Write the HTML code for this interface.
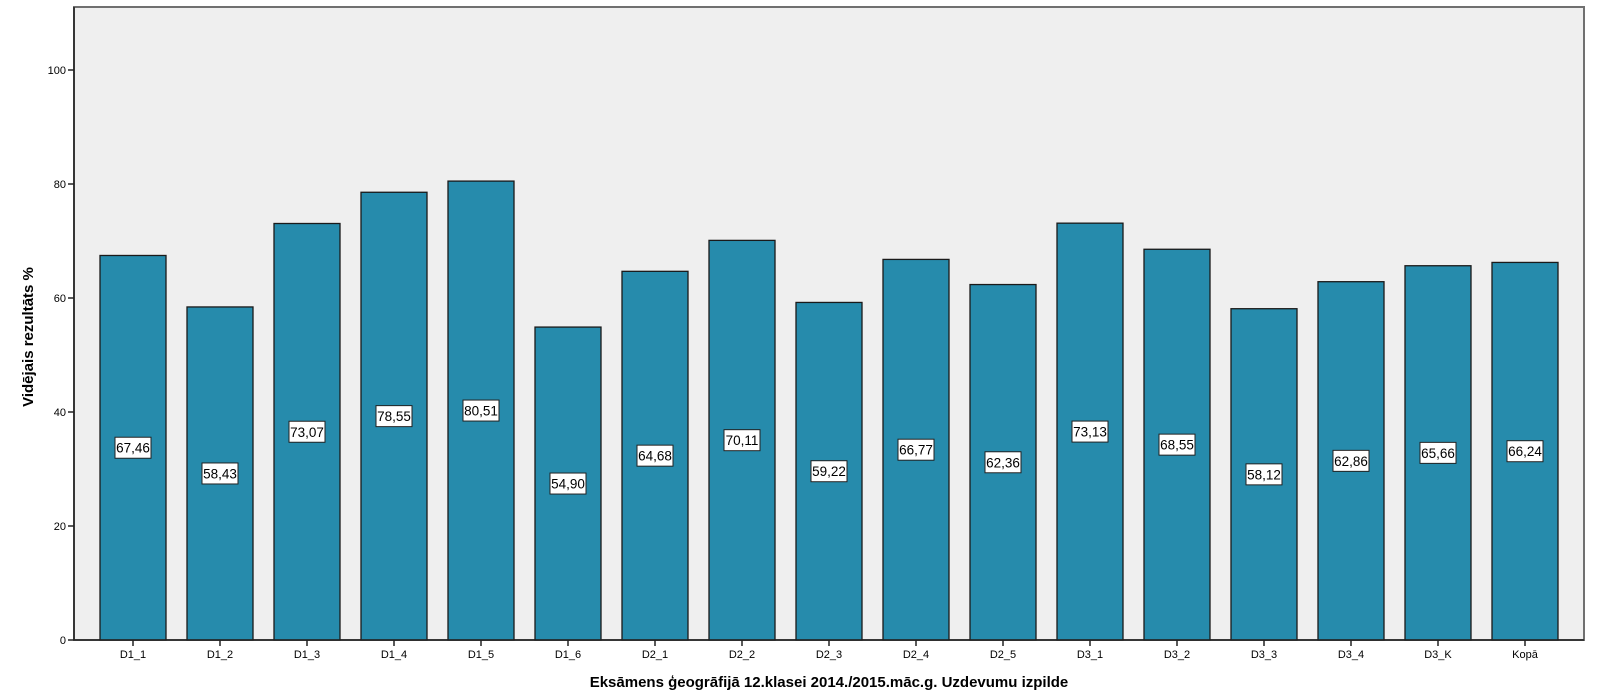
<!DOCTYPE html>
<html><head><meta charset="utf-8"><style>
html,body{margin:0;padding:0;background:#fff;}
svg{display:block;font-family:"Liberation Sans",Arial,sans-serif;}
</style></head><body>
<svg id="chart" width="1600" height="700">
<rect x="74" y="7" width="1510" height="633" fill="#efefef" stroke="#707070" stroke-width="2"/>
<g id="bars"></g>
<g id="yaxis"></g>
<g id="xaxis"></g>
<text x="33" y="337" transform="rotate(-90 33 337)" text-anchor="middle" font-size="15" font-weight="bold">Vidējais rezultāts %</text>
<text x="829" y="687" text-anchor="middle" font-size="15" font-weight="bold">Eksāmens ģeogrāfijā 12.klasei 2014./2015.māc.g. Uzdevumu izpilde</text>
</svg>
<script>
const categories=["D1_1","D1_2","D1_3","D1_4","D1_5","D1_6","D2_1","D2_2","D2_3","D2_4","D2_5","D3_1","D3_2","D3_3","D3_4","D3_K","Kopā"];
const values=[67.46,58.43,73.07,78.55,80.51,54.90,64.68,70.11,59.22,66.77,62.36,73.13,68.55,58.12,62.86,65.66,66.24];
const yTicks=[0,20,40,60,80,100];
const NS="http://www.w3.org/2000/svg";
const y0=640,pxu=5.7,x0=133,step=87,bw=66;
const ys=v=>y0-v*pxu, xs=i=>x0+i*step;
function mk(t,a,p){const e=document.createElementNS(NS,t);for(const k in a)e.setAttribute(k,a[k]);p.appendChild(e);return e;}
const bars=document.getElementById('bars'),ya=document.getElementById('yaxis'),xa=document.getElementById('xaxis');
values.forEach((v,i)=>{
 const r=mk('rect',{x:xs(i)-bw/2,y:ys(v),width:bw,height:y0-ys(v),fill:'#268bac',stroke:'#1a1a1a','stroke-width':1.3},bars);
 
 
 const s=v.toFixed(2).replace('.',',');
 const cy=ys(v/2);
 const b=mk('rect',{x:xs(i)-18,y:cy-10.5,width:36,height:21,fill:'#fff',stroke:'#222','stroke-width':1},bars);
 
 
 const t=mk('text',{x:xs(i),y:cy+5,'text-anchor':'middle','font-size':13.5},bars);
 
 
 t.textContent=s;
 mk('line',{x1:xs(i),x2:xs(i),y1:y0,y2:y0+6,stroke:'#222','stroke-width':1.5},xa);
 const xl=mk('text',{x:xs(i),y:y0+18,'text-anchor':'middle','font-size':11},xa);
 
 
 xl.textContent=categories[i];
});
yTicks.forEach(v=>{
 mk('line',{x1:68,x2:74,y1:ys(v),y2:ys(v),stroke:'#222','stroke-width':1.5},ya);
 const t=mk('text',{x:66,y:ys(v)+4,'text-anchor':'end','font-size':11},ya);
 
 
 t.textContent=v;
});
mk('line',{x1:74,x2:1584,y1:y0,y2:y0,stroke:'#222','stroke-width':1.5},xa);
mk('line',{x1:74,x2:74,y1:7,y2:y0,stroke:'#222','stroke-width':1.5},ya);
</script>
</body></html>
